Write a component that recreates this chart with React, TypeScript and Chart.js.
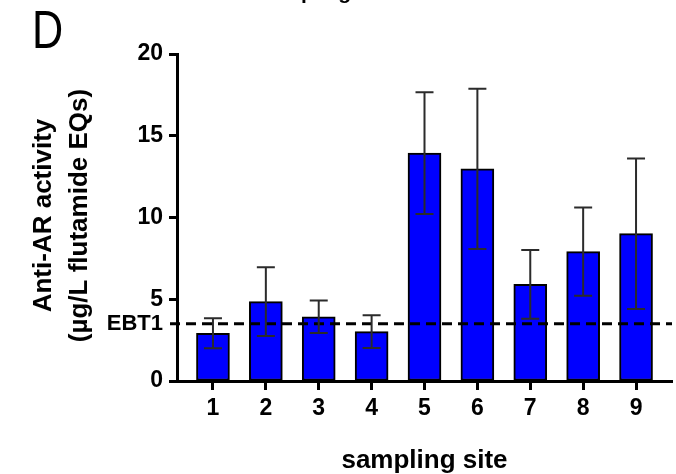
import React, { useEffect, useRef } from 'react';
import { Chart, registerables } from 'chart.js';

Chart.register(...registerables);

// ---- data ----
const siteLabels = ['1', '2', '3', '4', '5', '6', '7', '8', '9'];
const siteNumbers = [1, 2, 3, 4, 5, 6, 7, 8, 9];
const meanActivity = [2.92, 4.85, 3.93, 3.02, 13.94, 12.97, 5.91, 7.91, 9.01];
const errorActivity = [0.92, 2.1, 1.0, 1.0, 3.72, 4.9, 2.1, 2.7, 4.6];
const yTickValues = [0, 5, 10, 15, 20];
const ebt1Value = 3.5;
const ebt1Label = 'EBT1';
const panelLetter = 'D';
const yTitleLines = ['Anti-AR activity', '(µg/L flutamide EQs)'];
const xTitle = 'sampling site';
const topTitleFragment = 'sampling';

const FONT = '"Liberation Sans", Arial, Helvetica, sans-serif';

const overlayPlugin = {
  id: 'overlay',
  afterDatasetsDraw(chart: any) {
    const { ctx, scales, chartArea } = chart;
    const x = scales.x;
    const y = scales.y;
    ctx.save();
    // EBT1 dashed threshold line
    const ey = y.getPixelForValue(ebt1Value);
    ctx.setLineDash([10, 6]);
    ctx.lineWidth = 3;
    ctx.strokeStyle = '#000';
    ctx.beginPath();
    ctx.moveTo(chartArea.left - 7, ey);
    ctx.lineTo(chartArea.right, ey);
    ctx.stroke();
    ctx.setLineDash([]);
    // error bars
    ctx.strokeStyle = '#2b2b2b';
    ctx.lineWidth = 2;
    siteNumbers.forEach((s, i) => {
      const px = x.getPixelForValue(s);
      const top = y.getPixelForValue(meanActivity[i] + errorActivity[i]);
      const bot = y.getPixelForValue(meanActivity[i] - errorActivity[i]);
      ctx.beginPath();
      ctx.moveTo(px, top);
      ctx.lineTo(px, bot);
      ctx.moveTo(px - 9, top);
      ctx.lineTo(px + 9, top);
      ctx.moveTo(px - 9, bot);
      ctx.lineTo(px + 9, bot);
      ctx.stroke();
    });
    ctx.restore();
  },
  afterDraw(chart: any) {
    const { ctx, scales, chartArea } = chart;
    const y = scales.y;
    ctx.save();
    ctx.fillStyle = '#000';
    // EBT1 label
    ctx.font = `bold 22px ${FONT}`;
    ctx.textAlign = 'right';
    ctx.textBaseline = 'middle';
    ctx.fillText(ebt1Label, chartArea.left - 14, y.getPixelForValue(ebt1Value));
    // y title
    const cy = (chartArea.top + chartArea.bottom) / 2 - 2;
    ctx.save();
    ctx.translate(44, cy);
    ctx.rotate(-Math.PI / 2);
    ctx.font = `bold 26px ${FONT}`;
    ctx.textAlign = 'center';
    ctx.textBaseline = 'middle';
    ctx.fillText(yTitleLines[0], 0, 0);
    ctx.fillText(yTitleLines[1], 0, 36);
    ctx.restore();
    // x title
    ctx.font = `bold 26px ${FONT}`;
    ctx.textAlign = 'center';
    ctx.textBaseline = 'alphabetic';
    ctx.fillText(xTitle, (chartArea.left + chartArea.right) / 2, 468);
    // panel letter
    ctx.save();
    ctx.translate(32, 48);
    ctx.scale(0.8, 1);
    ctx.font = `54px ${FONT}`;
    ctx.textAlign = 'left';
    ctx.textBaseline = 'alphabetic';
    ctx.fillText(panelLetter, 0, 0);
    ctx.restore();
    // cut-off top title fragment
    ctx.font = `bold 21px ${FONT}`;
    ctx.textAlign = 'left';
    ctx.textBaseline = 'alphabetic';
    ctx.fillText(topTitleFragment, 259, -1);
    ctx.restore();
  },
};

export default function App() {
  const canvasRef = useRef<HTMLCanvasElement | null>(null);

  useEffect(() => {
    const canvas = canvasRef.current;
    if (!canvas) return;
    const tickFont = { family: FONT, size: 23, weight: 'bold' as const };
    const chart = new Chart(canvas, {
      type: 'bar',
      data: {
        datasets: [
          {
            data: siteNumbers.map((s, i) => ({ x: s, y: meanActivity[i] })),
            backgroundColor: '#0000ff',
            borderColor: '#000',
            borderWidth: 2,
            borderSkipped: false,
            barThickness: 33,
          },
        ],
      },
      options: {
        responsive: false,
        animation: false,
        devicePixelRatio: 1,
        layout: { padding: { left: 0, top: 54, right: 4, bottom: 0 } },
        plugins: {
          legend: { display: false },
          tooltip: { enabled: false },
          title: { display: false },
        },
        scales: {
          x: {
            type: 'linear',
            min: 0.32,
            max: 9.68,
            offset: false,
            afterBuildTicks: (s: any) => {
              s.ticks = siteNumbers.map((v) => ({ value: v }));
            },
            ticks: {
              callback: (v: any) => {
                const idx = siteNumbers.indexOf(Number(v));
                return idx >= 0 ? siteLabels[idx] : '';
              },
              font: tickFont,
              color: '#000',
              padding: 5,
              autoSkip: false,
              maxRotation: 0,
            },
            grid: {
              display: true,
              offset: false,
              drawOnChartArea: false,
              drawTicks: true,
              tickLength: 9,
              tickWidth: 3,
              tickColor: '#000',
            },
            border: { display: true, color: '#000', width: 3 },
            afterFit: (s: any) => {
              s.height = 474 - 381;
            },
          },
          y: {
            type: 'linear',
            min: 0,
            max: 20,
            afterBuildTicks: (s: any) => {
              s.ticks = yTickValues.map((v) => ({ value: v }));
            },
            ticks: { font: tickFont, color: '#000', padding: 6 },
            grid: {
              display: true,
              drawOnChartArea: false,
              drawTicks: true,
              tickLength: 8,
              tickWidth: 3,
              tickColor: '#000',
            },
            border: { display: true, color: '#000', width: 3 },
            afterFit: (s: any) => {
              s.width = 177;
            },
          },
        },
      },
      plugins: [overlayPlugin],
    } as any);
    return () => chart.destroy();
  }, []);

  return (
    <div style={{ position: 'absolute', left: 0, top: 0, width: 676, height: 474, background: '#fff' }}>
      <canvas ref={canvasRef} width={676} height={474} style={{ display: 'block' }} />
    </div>
  );
}
